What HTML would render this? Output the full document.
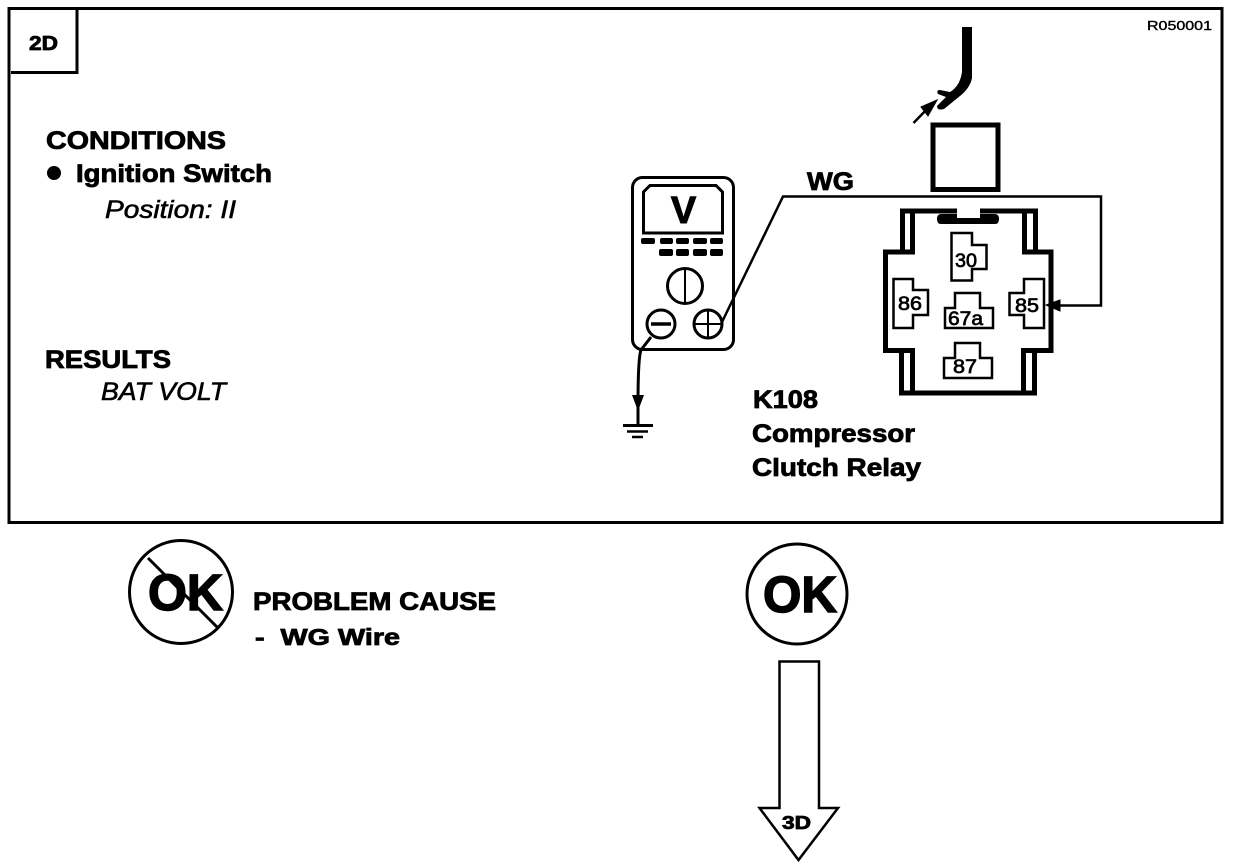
<!DOCTYPE html>
<html>
<head>
<meta charset="utf-8">
<style>
html,body{margin:0;padding:0;background:#fff;width:1248px;height:868px;overflow:hidden}
svg{display:block}
text{font-family:"Liberation Sans",sans-serif;fill:#000;font-weight:bold;stroke:#000;stroke-width:.8}
.i{font-style:italic;font-weight:normal;stroke-width:.6}
.t{font-size:19px;font-weight:normal;stroke-width:.7}
</style>
</head>
<body>
<svg width="1248" height="868" viewBox="0 0 1248 868" xmlns="http://www.w3.org/2000/svg">
<g fill="none" stroke="#000" stroke-linejoin="miter">
  <!-- frame -->
  <rect x="9" y="8.500" width="1213" height="514" stroke-width="3"/>
  <path d="M11 72.500H77V8" stroke-width="3"/>

  <!-- arrow to connector -->
  <path d="M913.500 123L930 106" stroke-width="2.500"/>
  <path d="M937 100L921 107L928 116Z" fill="#000" stroke-width="1"/>
  <rect x="933" y="125" width="65" height="64.500" stroke-width="5"/>

  <!-- WG wire -->
  <path d="M722 322L783 196.500H1101V305.500H1055" stroke-width="2.500"/>
  <path d="M1046 305L1060 300V311Z" fill="#000" stroke-width="1"/>

  <!-- relay -->
  <path d="M957 211H902.500V252H885.500V350.500H901.500V393H1034.500V350.500H1051V252H1035.500V211H980" stroke-width="5"/>
  <path d="M912.500 211V252H900M912.500 393V350.500H900M1024.500 211V252H1037M1023.500 393V350.500H1035" stroke-width="5"/>
  <path d="M951.500 233H972V245H986.500V269H972V280.500H951.500Z" stroke-width="2.500"/>
  <path d="M893.500 279H913V290H928V315H913V328H893.500Z" stroke-width="2.500"/>
  <path d="M1044 279H1024V293H1009.500V315H1024V328H1044Z" stroke-width="2.500"/>
  <path d="M955 293H980V308H993V328H945V308H955Z" stroke-width="2.500"/>
  <path d="M955 343H980V358H992V378H944V358H955Z" stroke-width="2.500"/>

  <!-- multimeter -->
  <rect x="632.500" y="177.500" width="101" height="172" rx="10" stroke-width="3"/>
  <path d="M643.500 233V192L650 185.500H716L722.500 192V233Z" stroke-width="3"/>
  <circle cx="685" cy="286" r="17.500" stroke-width="3"/>
  <path d="M685 269V303" stroke-width="2"/>
  <circle cx="661" cy="324" r="14" stroke-width="3"/>
  <path d="M651 324H671" stroke-width="3.500"/>
  <circle cx="708" cy="324" r="14" stroke-width="3"/>
  <path d="M695 324H721M708 311V337" stroke-width="2"/>

  <!-- ground lead -->
  <path d="M651 337L641 350Q638 358 638 405V425" stroke-width="3"/>
  <path d="M623 425.500H653" stroke-width="3"/>
  <path d="M627 431.500H648" stroke-width="2.500"/>
  <path d="M632 437H643" stroke-width="2.500"/>

  <!-- OK symbols -->
  <circle cx="181" cy="592" r="51.500" stroke-width="3"/>
  <path d="M148 558L217 627" stroke-width="3"/>
  <circle cx="797" cy="594" r="50" stroke-width="3"/>

  <!-- down arrow -->
  <path d="M779.500 661.500H819V808H838L798.500 860L759.500 808H779.500Z" stroke-width="2.500"/>
</g>
<g fill="#000" stroke="none">
  <!-- wire stub -->
  <path d="M962 27H972V78Q970 88 960 96L944 109Q937 111 937 106L946 97L938 94Q936 90 940 90L950 92Q960 86 962 72Z"/>
  <!-- relay top bar -->
  <path d="M941 214H957V218H980V214H995Q999 214 999 219Q999 224 995 224H941Q937 224 937 219Q937 214 941 214Z"/>
  <rect x="641" y="238" width="14" height="6" rx="2"/>
  <rect x="660" y="238" width="13" height="6" rx="2"/>
  <rect x="676" y="238" width="13" height="6" rx="2"/>
  <rect x="693" y="238" width="14" height="6" rx="2"/>
  <rect x="710" y="238" width="13" height="6" rx="2"/>
  <rect x="659" y="249" width="14" height="7" rx="2"/>
  <rect x="676" y="249" width="13" height="7" rx="2"/>
  <rect x="693" y="249" width="14" height="7" rx="2"/>
  <rect x="710" y="249" width="13" height="7" rx="2"/>
  <path d="M632 395H644L638 411Z"/>
  <circle cx="54" cy="173" r="7"/>
</g>

<text x="1147" y="30" font-size="13" textLength="65" lengthAdjust="spacingAndGlyphs" style="font-weight:normal;stroke-width:.4">R050001</text>
<text x="29" y="50" font-size="20" textLength="29" lengthAdjust="spacingAndGlyphs">2D</text>
<text x="46" y="149" font-size="25" textLength="180" lengthAdjust="spacingAndGlyphs">CONDITIONS</text>
<text x="76" y="182" font-size="25" textLength="196" lengthAdjust="spacingAndGlyphs">Ignition Switch</text>
<text x="105" y="218" font-size="25" class="i" textLength="131" lengthAdjust="spacingAndGlyphs">Position: II</text>
<text x="45" y="368" font-size="25" textLength="126" lengthAdjust="spacingAndGlyphs">RESULTS</text>
<text x="101" y="400" font-size="25" class="i" textLength="125" lengthAdjust="spacingAndGlyphs">BAT VOLT</text>

<text x="683.500" y="223" font-size="38" text-anchor="middle" style="stroke-width:1">V</text>
<text x="807" y="190" font-size="25" textLength="47" lengthAdjust="spacingAndGlyphs">WG</text>
<text x="753" y="408" font-size="25" textLength="65" lengthAdjust="spacingAndGlyphs">K108</text>
<text x="752" y="442" font-size="25" textLength="163" lengthAdjust="spacingAndGlyphs">Compressor</text>
<text x="752" y="476" font-size="25" textLength="169" lengthAdjust="spacingAndGlyphs">Clutch Relay</text>

<text class="t" x="955" y="267" textLength="22" lengthAdjust="spacingAndGlyphs">30</text>
<text class="t" x="898" y="310" textLength="24" lengthAdjust="spacingAndGlyphs">86</text>
<text class="t" x="1015" y="312" textLength="24" lengthAdjust="spacingAndGlyphs">85</text>
<text class="t" x="948" y="325" textLength="35" lengthAdjust="spacingAndGlyphs">67a</text>
<text class="t" x="953" y="373" textLength="24" lengthAdjust="spacingAndGlyphs">87</text>

<text x="148" y="610" font-size="51" textLength="75" lengthAdjust="spacingAndGlyphs" style="stroke-width:1.500">OK</text>
<text x="763" y="612" font-size="51" textLength="74" lengthAdjust="spacingAndGlyphs" style="stroke-width:1.500">OK</text>
<text x="253" y="610" font-size="25" textLength="243" lengthAdjust="spacingAndGlyphs">PROBLEM CAUSE</text>
<text x="255" y="645" font-size="23" textLength="145" lengthAdjust="spacingAndGlyphs" xml:space="preserve">-  WG Wire</text>
<text x="782" y="829" font-size="18" textLength="29" lengthAdjust="spacingAndGlyphs">3D</text>
</svg>
</body>
</html>
